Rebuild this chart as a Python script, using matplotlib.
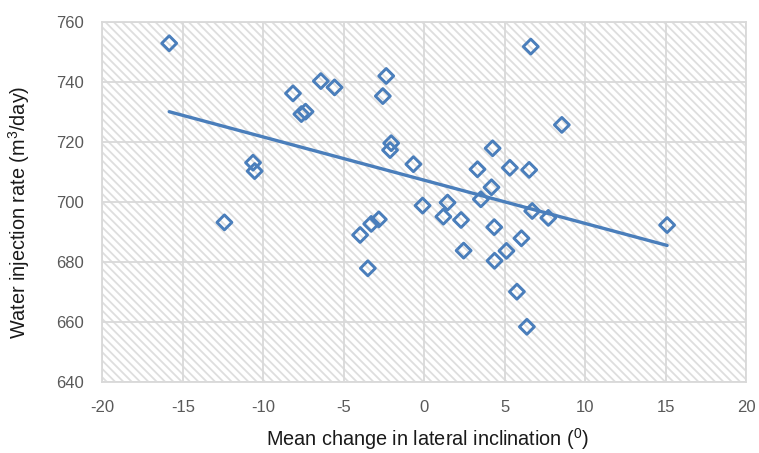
import numpy as np
import matplotlib
matplotlib.use("Agg")
import matplotlib.pyplot as plt

# Mean change in lateral inclination (degrees) and water injection rate (m3/day)
inclination = [-15.85, -12.42, -10.64, -10.54, -8.16, -7.64, -7.38, -6.43, -5.58,
               -3.99, -3.51, -3.30, -2.83, -2.58, -2.37, -2.06, -2.13, -0.68,
               -0.11, 1.18, 1.44, 2.28, 2.44, 3.30, 3.51, 4.17, 4.24, 4.34,
               4.36, 5.10, 5.31, 5.75, 6.03, 6.37, 6.51, 6.61, 6.70, 7.70,
               8.54, 15.08]
injection = [753.0, 693.3, 713.2, 710.4, 736.3, 729.4, 730.2, 740.4, 738.3,
             689.1, 678.0, 692.8, 694.3, 735.4, 742.1, 719.7, 717.4, 712.7,
             698.9, 695.2, 699.9, 694.1, 683.9, 711.0, 701.0, 705.0, 718.0, 691.7,
             680.5, 683.8, 711.5, 670.2, 688.0, 658.5, 710.8, 751.9, 697.1, 694.8,
             725.8, 692.4]

x_ticks = [-20, -15, -10, -5, 0, 5, 10, 15, 20]
y_ticks = [640, 660, 680, 700, 720, 740, 760]

BLUE = "#4A7EBB"
GRID = "#D9D9D9"
HATCH = "#DEDEDE"

plt.rcParams["font.family"] = ["Liberation Sans", "DejaVu Sans"]
plt.rcParams["mathtext.fontset"] = "custom"
plt.rcParams["mathtext.rm"] = "Liberation Sans"
plt.rcParams["axes.unicode_minus"] = False
plt.rcParams["hatch.color"] = HATCH
plt.rcParams["hatch.linewidth"] = 1.3

fig = plt.figure(figsize=(7.59, 4.53), dpi=100)
ax = fig.add_axes([0.1349, 0.1561, 0.8484, 0.7947])

# hatched plot-area background
ax.set_facecolor("white")
ax.add_patch(plt.Rectangle((0, 0), 1, 1, transform=ax.transAxes,
                           facecolor="white", edgecolor=HATCH,
                           hatch="\\\\\\\\", linewidth=0, zorder=0))

ax.grid(True, color=GRID, linewidth=1.3, zorder=1)
ax.set_axisbelow(True)

x = np.array(inclination)
y = np.array(injection)
ax.scatter(x, y, marker="D", s=58, facecolors="none", edgecolors=BLUE,
           linewidths=2.1, zorder=3)

# linear trend line over the data range
slope, intercept = np.polyfit(x, y, 1)
xl = np.array([x.min(), x.max()])
ax.plot(xl, slope * xl + intercept, color=BLUE, linewidth=2.4, zorder=2,
        solid_capstyle="round")

ax.set_xlim(x_ticks[0], x_ticks[-1])
ax.set_ylim(y_ticks[0], y_ticks[-1])
ax.set_xticks(x_ticks)
ax.set_yticks(y_ticks)
ax.tick_params(axis="both", length=0, labelsize=12, labelcolor="#595959")
ax.tick_params(axis="y", pad=13)
ax.tick_params(axis="x", pad=13)

for s in ax.spines.values():
    s.set_color(GRID)
    s.set_linewidth(1.3)

ax.set_xlabel(r"Mean change in lateral inclination ($\mathregular{^0}$)",
              fontsize=14.3, color="#1a1a1a")
ax.set_ylabel(r"Water injection rate (m$\mathregular{^3}$/day)",
              fontsize=14.3, color="#1a1a1a")
ax.xaxis.set_label_coords(0.505, -0.122)
ax.yaxis.set_label_coords(-0.11, 0.472)

fig.savefig("out.png", dpi=100)
